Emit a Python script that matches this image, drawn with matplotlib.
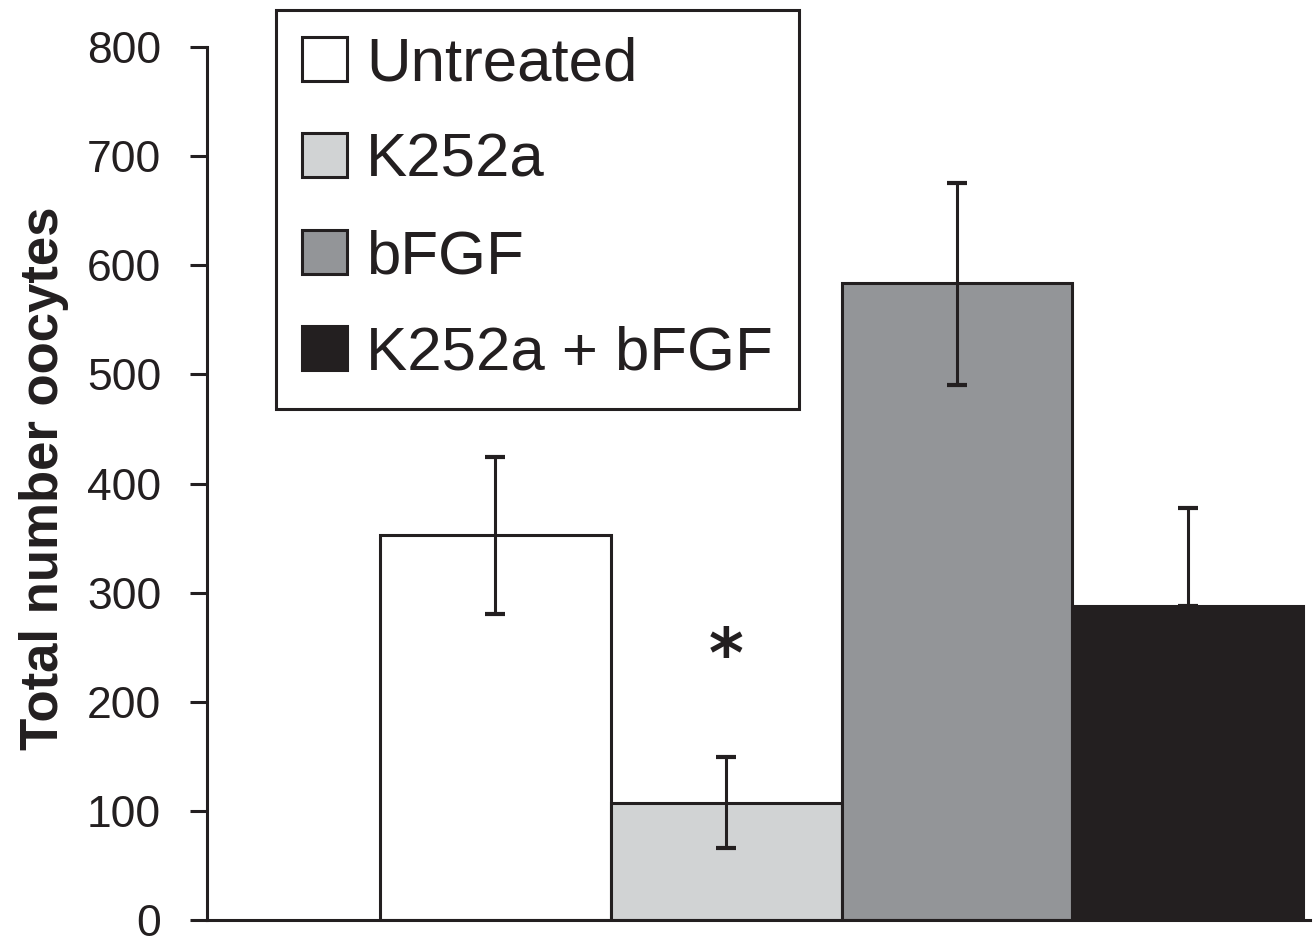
import matplotlib.pyplot as plt
from matplotlib.patches import Patch

# data
groups = ["Untreated", "K252a", "bFGF", "K252a + bFGF"]
means = [353, 107, 584, 288]
err_low = [73, 41, 94, 0]
err_high = [71, 42, 91, 90]
colors = ["#ffffff", "#d1d3d4", "#939598", "#231f20"]
yticks = [0, 100, 200, 300, 400, 500, 600, 700, 800]
star_y = 240

ink = "#231f20"

fig = plt.figure(figsize=(13.15, 9.39), dpi=100)
ax = fig.add_axes([207/1315, 1 - 920/939, 1103/1315, 873/939])

x = list(range(len(groups)))
ax.bar(x, means, width=1.0, color=colors, edgecolor=ink, linewidth=2.2, zorder=2)
ax.errorbar(x, means, yerr=[err_low, err_high], fmt="none", ecolor=ink,
            elinewidth=2.2, capsize=7, capthick=3, zorder=3)

ax.text(1, star_y, "*", ha="center", va="center", fontsize=48,
        fontweight="bold", family="DejaVu Sans", color=ink)

ax.set_xlim(-1.25, 3.53)
ax.set_ylim(0, 800)
ax.set_yticks(yticks)
ax.set_xticks([])
ax.tick_params(axis="y", direction="out", length=12, width=2.2, pad=21,
               labelsize=32, colors=ink)
for lab in ax.get_yticklabels():
    lab.set_family("Liberation Sans")
for s in ["top", "right"]:
    ax.spines[s].set_visible(False)
for s in ["left", "bottom"]:
    ax.spines[s].set_linewidth(2.2)
    ax.spines[s].set_color(ink)

ax.text(-0.148, 0.506, "Total number oocytes", transform=ax.transAxes,
        rotation=90, ha="center", va="center", fontsize=38, fontweight="bold",
        family="Liberation Sans", color=ink)

handles = [Patch(facecolor=c, edgecolor=ink, linewidth=2.2) for c in colors]
leg = ax.legend(handles, groups, loc="upper left", bbox_to_anchor=(0.0626, 1.042),
                borderaxespad=0, prop={"family": "Liberation Sans", "size": 44.5},
                handlelength=0.72, handleheight=0.72, handletextpad=0.32,
                labelspacing=0.64, borderpad=0.42, fancybox=False,
                edgecolor=ink, framealpha=1)
leg.get_frame().set_linewidth(2.2)
for t in leg.get_texts():
    t.set_color(ink)

fig.savefig("out.png", dpi=100)
